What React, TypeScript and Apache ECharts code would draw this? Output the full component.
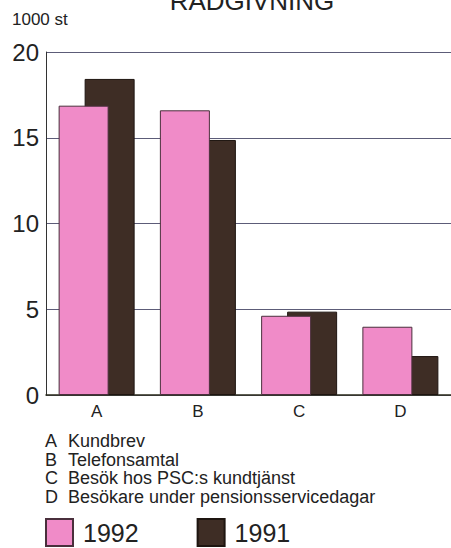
import React, { useEffect, useRef } from "react";
import * as echarts from "echarts";

const categories = ["A", "B", "C", "D"];
const values1992 = [16.87, 16.6, 4.62, 3.98];
const values1991 = [18.43, 14.87, 4.86, 2.27];
const yTicks = [0, 5, 10, 15, 20];
const descriptions = [
  { key: "A", text: "Kundbrev" },
  { key: "B", text: "Telefonsamtal" },
  { key: "C", text: "Besök hos PSC:s kundtjänst" },
  { key: "D", text: "Besökare under pensionsservicedagar" },
];
const title = "RÅDGIVNING";
const unit = "1000 st";

const FONT = "Liberation Sans, Arial, Helvetica, sans-serif";
const PINK = "#f08bc8";
const DARK = "#3e2d25";

export default function App() {
  const ref = useRef<HTMLDivElement>(null);
  useEffect(() => {
    if (!ref.current) return;
    const chart = echarts.init(ref.current, undefined, { renderer: "svg" });
    const descGraphics: any[] = [];
    descriptions.forEach((d, i) => {
      const y = 441 + i * 18.7;
      descGraphics.push({
        type: "text",
        x: 45,
        y,
        style: { text: d.key, fontSize: 18, fontFamily: FONT, fill: "#222", verticalAlign: "middle" },
      });
      descGraphics.push({
        type: "text",
        x: 68,
        y,
        style: { text: d.text, fontSize: 18, fontFamily: FONT, fill: "#222", verticalAlign: "middle" },
      });
    });
    chart.setOption({
      animation: false,
      backgroundColor: "#ffffff",
      textStyle: { fontFamily: FONT },
      grid: { left: 46, right: -3, top: 52, bottom: 153, containLabel: false },
      legend: {
        data: ["1992", "1991"],
        left: 45,
        top: 518,
        padding: 0,
        itemWidth: 27,
        itemHeight: 27,
        itemGap: 58,
        icon: "rect",
        textStyle: { fontSize: 25, color: "#222", fontFamily: FONT, padding: [3, 0, 0, 5] },
      },
      xAxis: {
        type: "category",
        data: categories,
        axisLine: { show: true, lineStyle: { color: "#2a2a1a", width: 1.5 } },
        axisTick: { show: false },
        axisLabel: { fontSize: 17, color: "#222", margin: 8, fontFamily: FONT },
      },
      yAxis: {
        type: "value",
        min: 0,
        max: 20,
        interval: 5,
        axisLine: { show: true, lineStyle: { color: "#333", width: 1 } },
        axisTick: { show: false },
        axisLabel: {
          fontSize: 24,
          color: "#222",
          margin: 7,
          fontFamily: FONT,
          formatter: (v: number) => (yTicks.includes(v) ? String(v) : ""),
        },
        splitLine: { show: true, lineStyle: { color: "#5c5c78", width: 1 } },
      },
      series: [
        {
          name: "1992",
          type: "bar",
          data: values1992,
          barWidth: 50,
          barGap: "-48%",
          z: 3,
          itemStyle: { color: PINK, borderColor: "#4a2f3c", borderWidth: 1 },
        },
        {
          name: "1991",
          type: "bar",
          data: values1991,
          barWidth: 50,
          z: 2,
          itemStyle: { color: DARK, borderColor: "#1e1510", borderWidth: 1 },
        },
      ],
      graphic: [
        {
          type: "text",
          x: 252,
          y: 1,
          style: {
            text: title,
            fontSize: 26,
            fontFamily: FONT,
            fill: "#222",
            align: "center",
            verticalAlign: "middle",
          },
        },
        {
          type: "text",
          x: 12,
          y: 19,
          style: { text: unit, fontSize: 17, fontFamily: FONT, fill: "#222", verticalAlign: "middle" },
        },
        ...descGraphics,
      ],
    });
    return () => chart.dispose();
  }, []);
  return <div ref={ref} style={{ width: 451, height: 548, position: "absolute", left: 0, top: 0 }} />;
}
